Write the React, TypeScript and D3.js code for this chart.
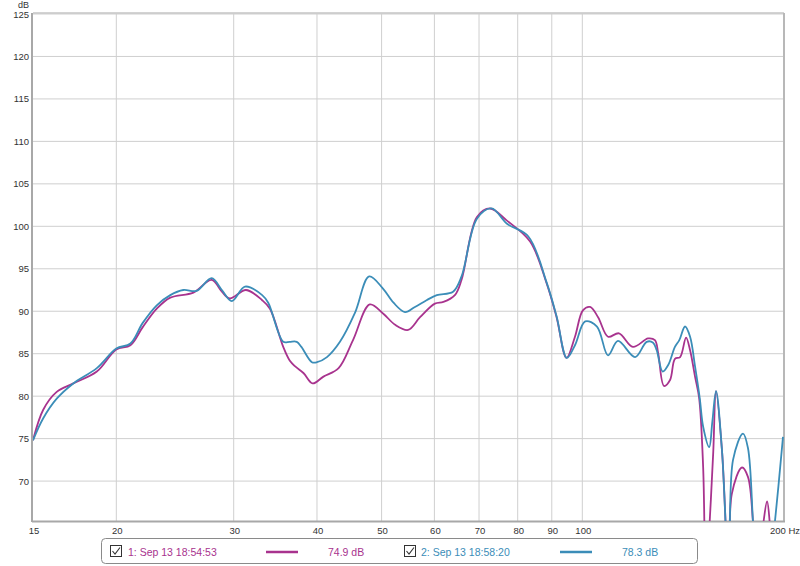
import React from "react";
import * as d3 from "d3";

const freq1 = [15.0, 15.54, 16.28, 17.24, 18.7, 20.0, 21.0, 21.9, 23.0, 24.1, 26.1, 27.8, 28.8, 29.6, 31.3, 33.1, 34.0, 35.6, 36.4, 37.1, 38.2, 39.4, 40.9, 43.1, 45.3, 48.0, 50.3, 52.4, 54.8, 57.1, 60.1, 61.9, 64.4, 65.9, 69.5, 72.7, 77.0, 83.5, 88.4, 91.5, 94.7, 97.5, 100.2, 102.7, 105.6, 109.3, 113.5, 119.1, 125.5, 128.5, 130.0, 132.6, 135.4, 137.7, 140.2, 143.1, 145.1, 147.6, 149.7, 151.8, 153.3, 155.4, 157.2, 158.7, 162.0, 166.0, 167.6, 173.6, 177.2, 180.3, 182.5, 186.7, 189.3, 191.2, 194.0, 200.0];
const db1 = [74.8, 78.4, 80.5, 81.5, 82.9, 85.5, 86.0, 88.1, 90.3, 91.6, 92.2, 93.7, 92.3, 91.5, 92.5, 91.3, 90.3, 85.8, 84.2, 83.5, 82.7, 81.5, 82.3, 83.3, 86.6, 90.8, 89.7, 88.4, 87.8, 89.3, 90.9, 91.1, 91.9, 93.7, 101.1, 102.1, 100.7, 98.2, 93.3, 89.3, 84.5, 87.0, 90.1, 90.5, 89.3, 87.0, 87.4, 85.8, 86.8, 86.6, 85.0, 81.2, 81.9, 84.4, 84.6, 86.9, 85.4, 82.3, 79.8, 71.6, 58.0, 65.8, 73.5, 80.6, 73.6, 58.0, 68.5, 71.6, 70.5, 65.2, 58.0, 64.8, 67.6, 64.8, 58.0, 58.0];

const freq2 = [15.0, 15.54, 16.28, 17.24, 18.7, 20.0, 21.0, 21.9, 23.0, 24.1, 25.2, 26.4, 27.8, 28.8, 29.8, 31.2, 33.1, 33.8, 35.6, 36.4, 37.3, 37.9, 39.3, 40.0, 41.4, 43.3, 45.6, 47.9, 50.2, 52.1, 54.2, 56.1, 58.4, 60.5, 64.0, 65.9, 69.5, 73.1, 77.1, 83.0, 88.4, 91.5, 94.8, 97.5, 101.0, 105.2, 109.3, 113.1, 120.0, 124.9, 127.7, 129.3, 132.0, 134.6, 137.7, 139.8, 142.6, 145.1, 147.6, 150.0, 151.8, 155.0, 156.7, 158.7, 162.0, 166.0, 168.3, 174.2, 177.2, 180.3, 182.5, 188.0, 194.6, 200.0];
const db2 = [74.8, 77.4, 79.7, 81.5, 83.3, 85.6, 86.2, 88.6, 90.7, 91.9, 92.5, 92.4, 93.9, 92.5, 91.2, 92.9, 91.9, 91.0, 86.4, 86.4, 86.4, 85.8, 84.0, 84.0, 84.6, 86.4, 89.8, 94.1, 92.7, 91.0, 89.9, 90.5, 91.3, 91.9, 92.3, 94.1, 100.9, 102.1, 100.3, 98.8, 93.4, 89.4, 84.5, 86.0, 88.8, 88.2, 84.8, 86.5, 84.6, 86.4, 86.3, 85.4, 82.9, 83.7, 85.8, 86.6, 88.2, 87.0, 83.5, 79.8, 76.4, 74.0, 77.0, 80.6, 73.6, 58.0, 72.5, 75.6, 73.9, 65.2, 58.0, 55.0, 65.4, 75.2];

const yTicks = [70, 75, 80, 85, 90, 95, 100, 105, 110, 115, 120, 125];
const xTicks = [15, 20, 30, 40, 50, 60, 70, 80, 90, 100, 200];
const xTickLabels = ["15", "20", "30", "40", "50", "60", "70", "80", "90", "100", "200 Hz"];

const seriesNames = ["1: Sep 13 18:54:53", "2: Sep 13 18:58:20"];
const seriesLevels = ["74.9 dB", "78.3 dB"];
const seriesColors = ["#a8338e", "#3b8db8"];

const W = 800;
const H = 566;
const L = 33, R = 783, T = 14, B = 521;

export default function App() {
  const x = d3.scaleLog().domain([15, 200]).range([L, R]);
  const y = d3.scaleLinear().domain([65.3, 125]).range([B, T]);
  const line = d3
    .line<[number, number]>()
    .x((d) => x(d[0]))
    .y((d) => y(d[1]))
    .curve(d3.curveCatmullRom.alpha(0.5));
  const s1 = freq1.map((f, i) => [f, db1[i]] as [number, number]);
  const s2 = freq2.map((f, i) => [f, db2[i]] as [number, number]);
  const font = "'Liberation Sans', Arial, sans-serif";

  const legendItems = [
    { cb: 110, text: 128, l1: 266, l2: 298, lvl: 328 },
    { cb: 404, text: 421, l1: 560, l2: 592, lvl: 622 },
  ];

  return (
    <svg
      width={W}
      height={H}
      style={{ position: "absolute", left: 0, top: 0, background: "#fff" }}
      fontFamily={font}
    >
      <defs>
        <clipPath id="plotclip">
          <rect x={L} y={T - 1} width={R - L + 1} height={B - T + 1} />
        </clipPath>
      </defs>
      {/* grid */}
      {yTicks.map((t) => (
        <line key={"gy" + t} x1={L} x2={R} y1={y(t)} y2={y(t)} stroke="#cfcfcf" strokeWidth={1} />
      ))}
      {xTicks.slice(1, -1).map((t) => (
        <line key={"gx" + t} x1={x(t)} x2={x(t)} y1={T} y2={B} stroke="#cfcfcf" strokeWidth={1} />
      ))}
      {/* frame */}
      <line x1={L} x2={R + 1} y1={T - 1} y2={T - 1} stroke="#c4c4c4" strokeWidth={1.5} />
      <line x1={R + 1} x2={R + 1} y1={T - 1} y2={B} stroke="#b8b8b8" strokeWidth={2} />
      <line x1={L - 1} x2={L - 1} y1={T - 1} y2={B + 1} stroke="#a8a8a8" strokeWidth={2} />
      <line x1={L - 1} x2={R + 2} y1={B + 0.5} y2={B + 0.5} stroke="#a8a8a8" strokeWidth={2} />
      {/* curves */}
      <g clipPath="url(#plotclip)">
        <path d={line(s1) || ""} fill="none" stroke={seriesColors[0]} strokeWidth={1.8} />
        <path d={line(s2) || ""} fill="none" stroke={seriesColors[1]} strokeWidth={1.8} />
      </g>
      {/* y labels */}
      <text x={29} y={8} fontSize={9} textAnchor="end" fill="#333">dB</text>
      {yTicks.map((t) => (
        <text key={"yl" + t} x={29} y={y(t) + 3.5} fontSize={9.5} textAnchor="end" fill="#333">
          {t}
        </text>
      ))}
      {/* x labels */}
      {xTicks.map((t, i) =>
        i === xTicks.length - 1 ? (
          <text key={"xl" + t} x={x(t) - 13} y={534} fontSize={9.5} textAnchor="start" fill="#333">
            {xTickLabels[i]}
          </text>
        ) : (
          <text key={"xl" + t} x={x(t) + 1} y={534} fontSize={9.5} textAnchor="middle" fill="#333">
            {xTickLabels[i]}
          </text>
        )
      )}
      {/* legend */}
      <rect x={101.5} y={538.5} width={596} height={25} rx={4} fill="#fff" stroke="#8a8a8a" strokeWidth={1} />
      {legendItems.map((it, i) => (
        <g key={"lg" + i}>
          <rect x={it.cb + 0.5} y={545.5} width={11} height={11} fill="#fff" stroke="#333" strokeWidth={1} />
          <path
            d={`M${it.cb + 2.5},${551} L${it.cb + 5},${554} L${it.cb + 10},${547.5}`}
            fill="none"
            stroke="#333"
            strokeWidth={1.1}
          />
          <text x={it.text} y={555.5} fontSize={10.5} fill={seriesColors[i]}>
            {seriesNames[i]}
          </text>
          <line x1={it.l1} x2={it.l2} y1={552} y2={552} stroke={seriesColors[i]} strokeWidth={2.5} />
          <text x={it.lvl} y={555.5} fontSize={10.5} fill={seriesColors[i]}>
            {seriesLevels[i]}
          </text>
        </g>
      ))}
    </svg>
  );
}
